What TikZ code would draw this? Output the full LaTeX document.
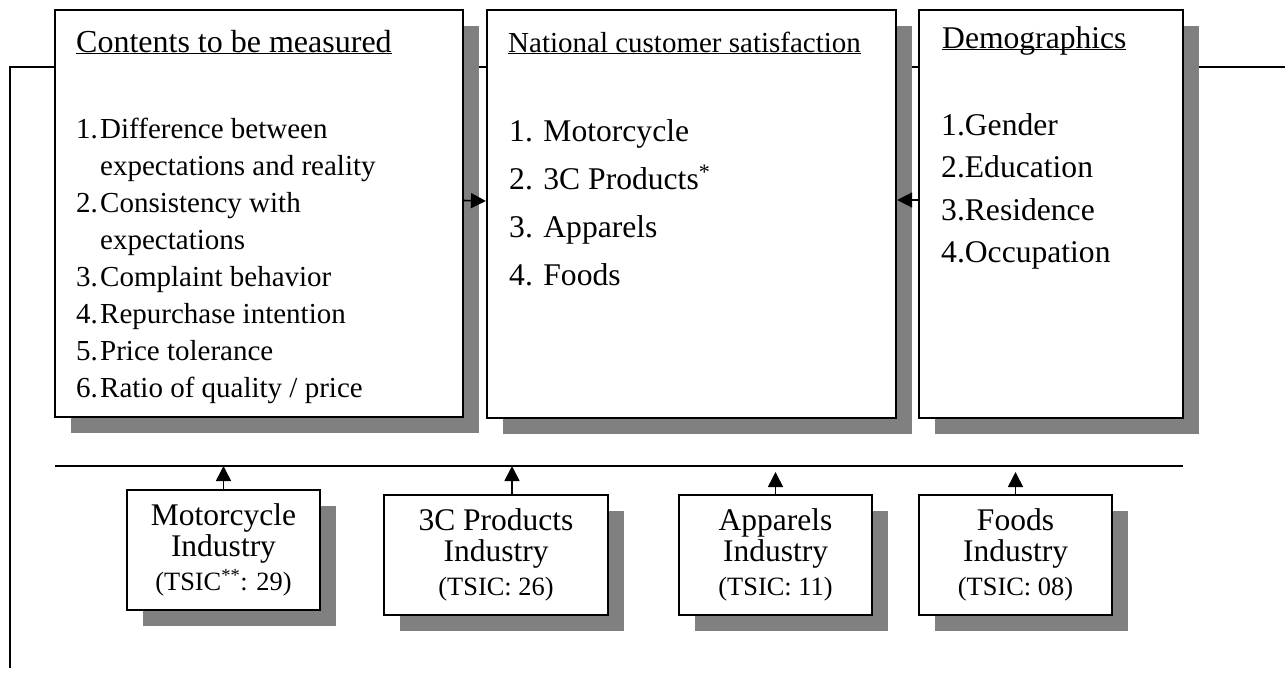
\documentclass[tikz,border=0pt]{standalone}
\usepackage{fontspec}
\setmainfont{Liberation Serif}
\usetikzlibrary{arrows.meta,shadows}
\definecolor{shadegray}{HTML}{808080}
\newcommand{\headline}[1]{\underline{\smash{#1}}}

\begin{document}
\begin{tikzpicture}[x=1pt,y=-1pt,
  panel/.style={draw,line width=2.2pt,fill=white,inner sep=0pt,
    drop shadow={shadow xshift=16pt,shadow yshift=-16pt,fill=shadegray,opacity=1}},
  industry/.style={panel,align=center,minimum width=193pt,minimum height=120pt,
    font=\fontsize{31.5}{31}\selectfont},
  txt/.style={anchor=base west,inner sep=0pt},
  link/.style={line width=1.6pt,-{Triangle[length=15pt,width=15pt]}},
  rail/.style={line width=1.6pt}]

  \useasboundingbox (0,0) rectangle (1287,675);

  % -------- FRAME LINES --------
  \coordinate (topL) at (10,67);
  \coordinate (topR) at (1285,67);
  \coordinate (botL) at (10,668);
  \draw[rail] (botL) -- (topL) -- (topR);

  % Bus under the panels
  \coordinate (busL) at (55,466);
  \coordinate (busR) at (1183,466);
  \draw[rail] (busL) -- (busR);

  % -------- TOP PANELS --------
  \node[panel,minimum width=408pt,minimum height=407pt] (measure) at (259,213.5) {};
  \node[panel,minimum width=409pt,minimum height=408pt] (national) at (691.5,214) {};
  \node[panel,minimum width=264pt,minimum height=408pt] (demo) at (1051,214) {};

  % Contents to be measured
  \node[txt,font=\fontsize{32}{38}\selectfont] (measureT) at (76,52)
    {\headline{Contents to be measured}};
  \node[txt,font=\fontsize{29}{37}\selectfont] (measureL) at (76,138)
    {\begin{tabular}[t]{@{}p{24pt}@{}l@{}}
      1.&Difference between\\
        &expectations and reality\\
      2.&Consistency with\\
        &expectations\\
      3.&Complaint behavior\\
      4.&Repurchase intention\\
      5.&Price tolerance\\
      6.&Ratio of quality / price
    \end{tabular}};

  % National customer satisfaction
  \node[txt,font=\fontsize{29}{35}\selectfont] (nationalT) at (508,52)
    {\headline{National customer satisfaction}};
  \node[txt,font=\fontsize{31.6}{48}\selectfont] (nationalL) at (509,141)
    {\begin{tabular}[t]{@{}l@{}}
      1. Motorcycle\\
      2. 3C Products\textsuperscript{*}\\
      3. Apparels\\
      4. Foods
    \end{tabular}};

  % Demographics
  \node[txt,font=\fontsize{31.6}{38}\selectfont] (demoT) at (942,48)
    {\headline{Demographics}};
  \node[txt,font=\fontsize{31.6}{42.5}\selectfont] (demoL) at (941,135)
    {\begin{tabular}[t]{@{}l@{}}
      1.Gender\\
      2.Education\\
      3.Residence\\
      4.Occupation
    \end{tabular}};

  % Side arrows into the middle panel
  \draw[link] ([yshift=13pt]measure.east) -- ([yshift=13pt]national.west);
  \draw[link] ([yshift=14pt]demo.west) -- ([yshift=14pt]national.east);

  % -------- INDUSTRIES --------
  \node[industry] (moto) at (223.5,550)
    {Motorcycle\\Industry\\[3pt]{\fontsize{26.4}{28}\selectfont (TSIC\textsuperscript{**}: 29)}};
  \node[industry,minimum width=224pt] (tcp) at (496,555)
    {3C Products\\Industry\\[3pt]{\fontsize{26.4}{28}\selectfont (TSIC: 26)}};
  \node[industry] (apparel) at (775.5,555)
    {Apparels\\Industry\\[3pt]{\fontsize{26.4}{28}\selectfont (TSIC: 11)}};
  \node[industry] (food) at (1015.5,555)
    {Foods\\Industry\\[3pt]{\fontsize{26.4}{28}\selectfont (TSIC: 08)}};

  % Arrows up to the bus
  \draw[link] (moto.north) -- (moto.north |- busL);
  \draw[link] ([xshift=16pt]tcp.north) -- ([xshift=16pt]tcp.north |- busL);
  \draw[link,shorten >=6pt] (apparel.north) -- (apparel.north |- busL);
  \draw[link,shorten >=6pt] (food.north) -- (food.north |- busL);

\end{tikzpicture}
\end{document}
